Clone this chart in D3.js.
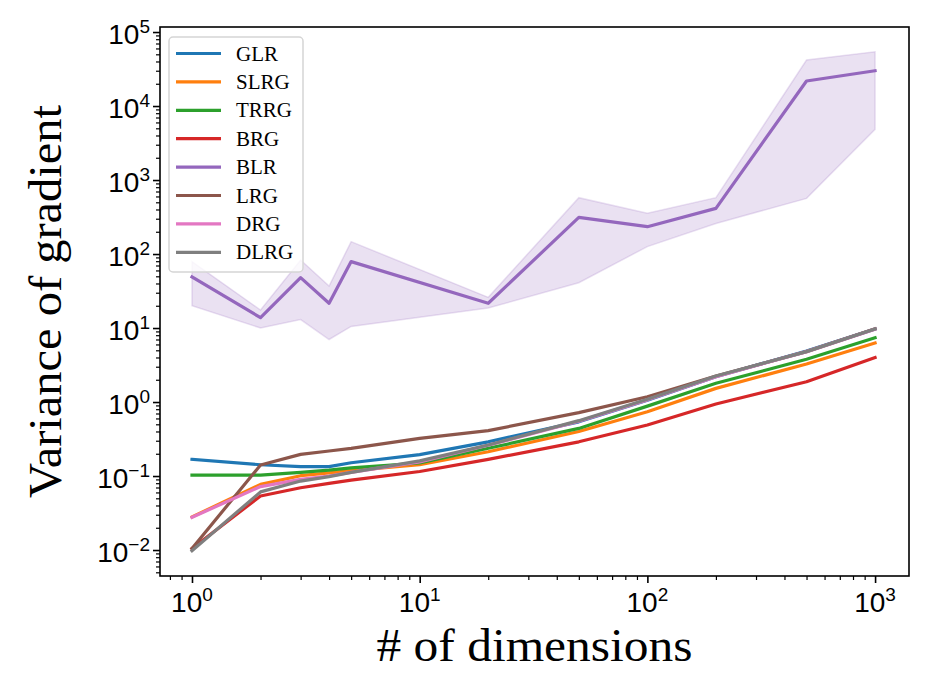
<!DOCTYPE html>
<html>
<head>
<meta charset="utf-8">
<script src="https://cdn.jsdelivr.net/npm/d3@7"></script>
<style>
  body { margin: 0; background: #fff; }
  svg { display: block; }
</style>
</head>
<body>
<div id="chart"></div>
<script>
var dims = [1, 2, 3, 4, 5, 10, 20, 50, 100, 200, 500, 1000];
var dimsBLR = [1, 2, 3, 4, 5, 20, 50, 100, 200, 500, 1000];

var GLR  = [0.168, 0.142, 0.134, 0.134, 0.151, 0.195, 0.29, 0.54, 1.06, 2.2, 4.9, 9.7];
var SLRG = [0.028, 0.077, 0.101, 0.11, 0.118, 0.142, 0.213, 0.40, 0.74, 1.53, 3.26, 6.3];
var TRRG = [0.103, 0.103, 0.112, 0.12, 0.129, 0.15, 0.237, 0.44, 0.88, 1.79, 3.78, 7.4];
var BRG  = [0.0105, 0.0537, 0.0695, 0.0797, 0.088, 0.115, 0.168, 0.29, 0.49, 0.94, 1.88, 4.0];
var LRG  = [0.0105, 0.141, 0.196, 0.218, 0.237, 0.323, 0.41, 0.72, 1.18, 2.25, 4.8, 9.8];
var DRG  = [0.0277, 0.072, 0.090, 0.10, 0.112, 0.155, 0.26, 0.55, 1.07, 2.2, 4.8, 9.6];
var DLRG = [0.0098, 0.061, 0.0855, 0.098, 0.112, 0.16, 0.263, 0.56, 1.09, 2.25, 4.8, 9.7];

var BLR      = [49, 13.8, 48, 21.6, 79, 21.6, 313, 234, 414, 21800, 30000];
var BLRupper = [79, 17.5, 83, 37, 147, 26, 577, 355, 577, 41900, 54000];
var BLRlower = [20, 10, 13, 7, 10.5, 18.6, 41, 126, 259, 565, 4840];

var names = ['GLR', 'SLRG', 'TRRG', 'BRG', 'BLR', 'LRG', 'DRG', 'DLRG'];
var colors = ['#1f77b4', '#ff7f0e', '#2ca02c', '#d62728', '#9467bd', '#8c564b', '#e377c2', '#7f7f7f'];

var xTicks = [1, 10, 100, 1000];
var yTicks = [1e-2, 1e-1, 1, 10, 100, 1e3, 1e4, 1e5];

var series = {
    GLR: {x: dims, y: GLR}, SLRG: {x: dims, y: SLRG}, TRRG: {x: dims, y: TRRG},
    BRG: {x: dims, y: BRG}, BLR: {x: dimsBLR, y: BLR}, LRG: {x: dims, y: LRG},
    DRG: {x: dims, y: DRG}, DLRG: {x: dims, y: DLRG}
};

var W = 933, H = 700;
var margin = {left: 160, top: 27, right: 24, bottom: 124};
var width = W - margin.left - margin.right,
    height = H - margin.top - margin.bottom;

var svg = d3.select('#chart').append('svg')
    .attr('width', W).attr('height', H);
var g = svg.append('g').attr('transform', 'translate(' + margin.left + ',' + margin.top + ')');

var x = d3.scaleLog().domain([Math.pow(10, -0.1405), Math.pow(10, 3.149)]).range([0, width]);
var y = d3.scaleLog().domain([Math.pow(10, -2.351), Math.pow(10, 5.068)]).range([height, 0]);

// shaded band for BLR
var area = d3.area()
    .x(function (d, i) { return x(dimsBLR[i]); })
    .y0(function (d, i) { return y(BLRlower[i]); })
    .y1(function (d, i) { return y(BLRupper[i]); });
g.append('path')
    .datum(BLR)
    .attr('d', area)
    .attr('fill', colors[4]).attr('fill-opacity', 0.2)
    .attr('stroke', colors[4]).attr('stroke-opacity', 0.2).attr('stroke-width', 1.5);

var line = d3.line()
    .x(function (d) { return x(d[0]); })
    .y(function (d) { return y(d[1]); });

names.forEach(function (name, k) {
    var s = series[name];
    var pts = s.x.map(function (v, i) { return [v, s.y[i]]; });
    g.append('path')
        .datum(pts)
        .attr('d', line)
        .attr('fill', 'none')
        .attr('stroke', colors[k])
        .attr('stroke-width', 3.2)
        .attr('stroke-linejoin', 'round')
        .attr('stroke-linecap', 'square');
});

// axes
var xMinor = [], yMinor = [];
for (var e = -1; e <= 3; e++) for (var m = 2; m <= 9; m++) xMinor.push(m * Math.pow(10, e));
for (var e2 = -3; e2 <= 5; e2++) for (var m2 = 2; m2 <= 9; m2++) yMinor.push(m2 * Math.pow(10, e2));
xMinor = xMinor.filter(function (v) { return v >= x.domain()[0] && v <= x.domain()[1]; });
yMinor = yMinor.filter(function (v) { return v >= y.domain()[0] && v <= y.domain()[1]; });

var xAxisMinor = g.append('g').attr('transform', 'translate(0,' + height + ')')
    .call(d3.axisBottom(x).tickValues(xMinor).tickSize(4).tickFormat(''));
var xAxis = g.append('g').attr('transform', 'translate(0,' + height + ')')
    .call(d3.axisBottom(x).tickValues(xTicks).tickSize(7).tickFormat(''));
var yAxisMinor = g.append('g')
    .call(d3.axisLeft(y).tickValues(yMinor).tickSize(4).tickFormat(''));
var yAxis = g.append('g')
    .call(d3.axisLeft(y).tickValues(yTicks).tickSize(7).tickFormat(''));

[xAxisMinor, xAxis, yAxisMinor, yAxis].forEach(function (a) {
    a.select('.domain').remove();
    a.selectAll('line').attr('stroke', '#000').attr('stroke-width', 1.2);
});
xAxis.selectAll('line').attr('stroke-width', 1.6);
yAxis.selectAll('line').attr('stroke-width', 1.6);

g.append('rect')
    .attr('width', width).attr('height', height)
    .attr('fill', 'none').attr('stroke', '#000').attr('stroke-width', 1.6);

var expLabel = function (v) {
    var p = Math.round(Math.log10(v));
    return p < 0 ? '\u2212' + (-p) : String(p);
};

var xl = g.selectAll('.xlab').data(xTicks).enter().append('text')
    .attr('class', 'xlab')
    .attr('x', function (d) { return x(d); })
    .attr('y', height + 36)
    .attr('text-anchor', 'middle')
    .style('font-family', '"Liberation Sans", Arial, sans-serif')
    .style('font-size', '28px');
xl.append('tspan').text('10');
xl.append('tspan').attr('dy', -11).style('font-size', '19px').text(function (d) { return expLabel(d); });

var yl = g.selectAll('.ylab').data(yTicks).enter().append('text')
    .attr('class', 'ylab')
    .attr('x', -10)
    .attr('y', function (d) { return y(d) + 12; })
    .attr('text-anchor', 'end')
    .style('font-family', '"Liberation Sans", Arial, sans-serif')
    .style('font-size', '28px');
yl.append('tspan').text('10');
yl.append('tspan').attr('dy', -11).style('font-size', '19px').text(function (d) { return expLabel(d); });

// axis titles
svg.append('text')
    .attr('x', margin.left + width / 2)
    .attr('y', 661)
    .attr('text-anchor', 'middle')
    .attr('textLength', 316).attr('lengthAdjust', 'spacingAndGlyphs')
    .style('font-family', '"Liberation Serif", "Times New Roman", serif')
    .style('font-size', '46px')
    .text('# of dimensions');

svg.append('text')
    .attr('transform', 'translate(61,' + (margin.top + height / 2) + ') rotate(-90)')
    .attr('text-anchor', 'middle')
    .attr('textLength', 393).attr('lengthAdjust', 'spacingAndGlyphs')
    .style('font-family', '"Liberation Serif", "Times New Roman", serif')
    .style('font-size', '46px')
    .text('Variance of gradient');

// legend
var legend = svg.append('g').attr('transform', 'translate(169,37)');
legend.append('rect')
    .attr('width', 134).attr('height', 235)
    .attr('rx', 4).attr('ry', 4)
    .attr('fill', '#fff').attr('fill-opacity', 0.8)
    .attr('stroke', '#d5d5d5').attr('stroke-width', 1.5);
var item = legend.selectAll('.item').data(names).enter().append('g')
    .attr('class', 'item')
    .attr('transform', function (d, i) { return 'translate(0,' + (16.5 + i * 28.4) + ')'; });
item.append('line')
    .attr('x1', 7).attr('x2', 52)
    .attr('stroke', function (d, i) { return colors[i]; })
    .attr('stroke-width', 3.2);
item.append('text')
    .attr('x', 67).attr('y', 7)
    .style('font-family', '"Liberation Serif", "Times New Roman", serif')
    .style('font-size', '21px')
    .text(function (d) { return d; });
</script>
</body>
</html>
